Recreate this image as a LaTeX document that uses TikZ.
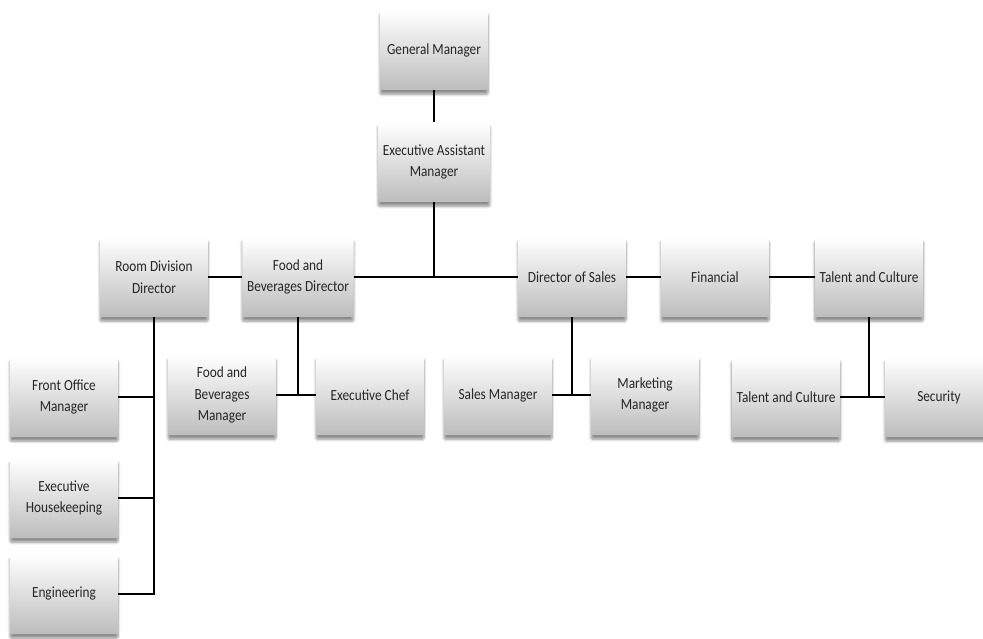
\documentclass[tikz,border=0pt]{standalone}
\usepackage{fontspec}
\setmainfont{Carlito}[FakeStretch=0.86]
\usetikzlibrary{shadows.blur}

\begin{document}
\begin{tikzpicture}[
		orgbox/.style={rectangle,rounded corners=1pt,minimum width=2.7cm,minimum height=2cm,align=center,
			top color=white,bottom color=black!26,text=black!85,
			blur shadow={shadow xshift=0pt,shadow yshift=-3pt,shadow blur steps=6,shadow opacity=45},
			font=\fontsize{11}{15.5}\selectfont},
		link/.style={line width=2pt,black}]
		\useasboundingbox (0,0) rectangle (24.575,-15.975);
		% top of the chart
		\node[orgbox] (gm) at (10.85,-1.25) {General Manager};
		\node[orgbox] (eam) at (10.85,-4.05) {Executive Assistant\\Manager};
		% directors
		\node[orgbox] (rdd) at (3.85,-6.925) {Room Division\\Director};
		\node[orgbox] (fbd) at (7.45,-6.925) {Food and\\Beverages Director};
		\node[orgbox] (dos) at (14.3,-6.925) {Director of Sales};
		\node[orgbox] (fin) at (17.875,-6.925) {Financial};
		\node[orgbox] (tac) at (21.725,-6.925) {Talent and Culture};
		% room division
		\node[orgbox] (fom) at (1.6,-9.925) {Front Office\\Manager};
		\node[orgbox] (hk) at (1.6,-12.45) {Executive\\Housekeeping};
		\node[orgbox] (eng) at (1.6,-14.85) {Engineering};
		% food and beverages
		\node[orgbox] (fbm) at (5.55,-9.875) {Food and\\Beverages\\Manager};
		\node[orgbox] (chef) at (9.25,-9.875) {Executive Chef};
		% sales
		\node[orgbox] (sm) at (12.45,-9.875) {Sales Manager};
		\node[orgbox] (mm) at (16.125,-9.875) {Marketing\\Manager};
		% talent and culture
		\node[orgbox] (tac2) at (19.65,-9.925) {Talent and Culture};
		\node[orgbox] (sec) at (23.475,-9.925) {Security};

		\draw[link] (gm) -- (eam);
		\draw[link] (eam.south) -- (eam.south |- fbd.east);
		\draw[link] (rdd.east) -- (fbd.west);
		\draw[link] (fbd.east) -- (dos.west);
		\draw[link] (dos.east) -- (fin.west);
		\draw[link] (fin.east) -- (tac.west);
		\draw[link] (rdd.south) |- (eng.east);
		\draw[link] (fom.east) -- (fom.east -| rdd.south);
		\draw[link] (hk.east) -- (hk.east -| rdd.south);
		\draw[link] (fbd.south) |- (fbm.east);
		\draw[link] (fbm.east) -- (chef.west);
		\draw[link] (dos.south) |- (sm.east);
		\draw[link] (sm.east) -- (mm.west);
		\draw[link] (tac.south) |- (tac2.east);
		\draw[link] (tac2.east) -- (sec.west);
	\end{tikzpicture}
\end{document}
